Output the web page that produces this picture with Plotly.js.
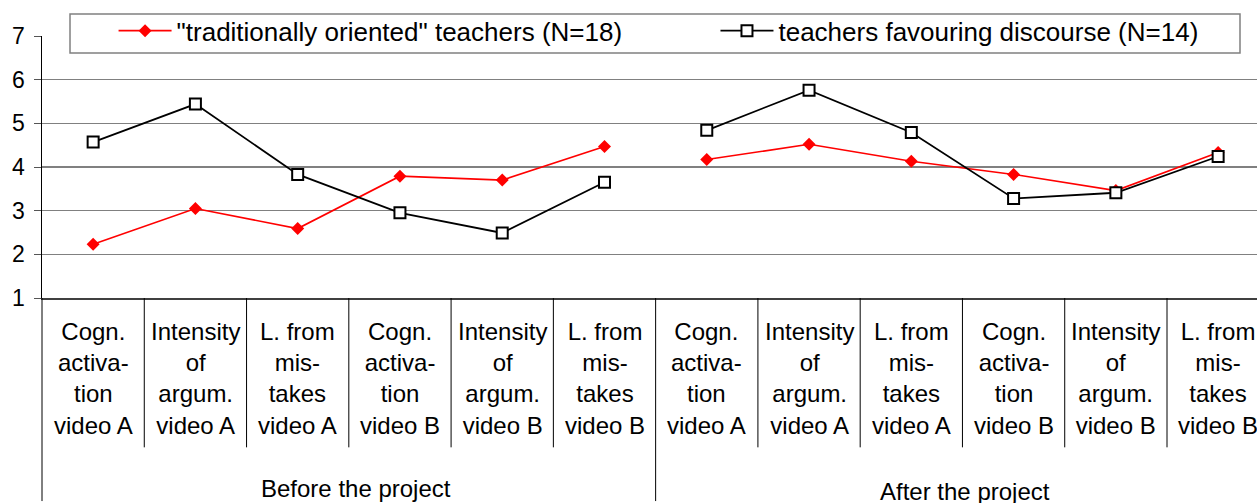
<!DOCTYPE html>
<html>
<head>
<meta charset="utf-8">
<script src="https://cdn.plot.ly/plotly-3.0.1.min.js"></script>
<style>html,body{margin:0;padding:0;background:#fff;}#chart{width:1257px;height:503px;}</style>
</head>
<body>
<div id="chart"></div>
<script>
// ---- data ----
var categories = [
  "Cogn.<br>activa-<br>tion<br>video A",
  "Intensity<br>of<br>argum.<br>video A",
  "L. from<br>mis-<br>takes<br>video A",
  "Cogn.<br>activa-<br>tion<br>video B",
  "Intensity<br>of<br>argum.<br>video B",
  "L. from<br>mis-<br>takes<br>video B"
];
var groups = ["Before the project", "After the project"];
var seriesNames = ['"traditionally oriented" teachers (N=18)', 'teachers favouring discourse (N=14)'];
var traditionalBefore = [2.23, 3.05, 2.59, 3.79, 3.70, 4.47];
var traditionalAfter  = [4.17, 4.52, 4.13, 3.83, 3.46, 4.33];
var discourseBefore   = [4.57, 5.44, 3.83, 2.95, 2.49, 3.65];
var discourseAfter    = [4.84, 5.76, 4.79, 3.28, 3.41, 4.24];
var yTicks = [1, 2, 3, 4, 5, 6, 7];

// ---- build ----
var font = "Liberation Sans, Arial, sans-serif";
var n = categories.length;
var xBefore = categories.map(function(_, i){ return i; });
var xAfter = categories.map(function(_, i){ return i + n; });

var redLine = {color: "#ff0000", width: 1.6};
var redMarker = {symbol: "diamond", size: 10, color: "#ff0000"};
var blkLine = {color: "#000000", width: 1.8};
var blkMarker = {symbol: "square", size: 11, color: "#ffffff", line: {color: "#000000", width: 2}};

var traces = [
  {x: xBefore, y: traditionalBefore, mode: "lines+markers", name: seriesNames[0], legendgroup: "t", legend: "legend", line: redLine, marker: redMarker, cliponaxis: false},
  {x: xAfter, y: traditionalAfter, mode: "lines+markers", name: seriesNames[0], legendgroup: "t", showlegend: false, line: redLine, marker: redMarker, cliponaxis: false},
  {x: xBefore, y: discourseBefore, mode: "lines+markers", name: seriesNames[1], legendgroup: "d", legend: "legend2", line: blkLine, marker: blkMarker, cliponaxis: false},
  {x: xAfter, y: discourseAfter, mode: "lines+markers", name: seriesNames[1], legendgroup: "d", showlegend: false, line: blkLine, marker: blkMarker, cliponaxis: false}
];

var annotations = [];
var shapes = [];
for (var g = 0; g < groups.length; g++) {
  for (var i = 0; i < n; i++) {
    annotations.push({x: g*n + i, xref: "x", y: 0, yref: "paper", yanchor: "top", xanchor: "center",
      yshift: -18, text: categories[i], showarrow: false, align: "center",
      font: {family: font, size: 24, color: "#000"}});
  }
  annotations.push({x: g*n + (n-1)/2, xref: "x", y: 0, yref: "paper", yanchor: "top", xanchor: "center",
    yshift: -175 - g*3, xshift: g === 0 ? 7 : 3, text: groups[g], showarrow: false,
    font: {family: font, size: 24, color: "#000"}});
}
// separators between categories
for (var k = 1; k < 2*n; k++) {
  var isGroup = (k % n === 0);
  shapes.push({type: "line", xref: "x", yref: "paper", x0: k - 0.5, x1: k - 0.5,
    y0: 0, y1: isGroup ? -0.775 : -0.57, line: {color: "#000", width: 1}});
}
// left boundary continuing below axis
shapes.push({type: "line", xref: "paper", yref: "paper", x0: 0, x1: 0, y0: 0, y1: -0.775, line: {color: "#000", width: 1}});
// legend frame
shapes.push({type: "rect", xref: "paper", yref: "paper", x0: 0.02305, x1: 0.98601, y0: 0.9351, y1: 1.084,
  fillcolor: "#fff", line: {color: "#808080", width: 1.5}, layer: "above"});

var legendCommon = {orientation: "h", yanchor: "middle", y: 1.020, xanchor: "left",
  bgcolor: "rgba(0,0,0,0)", borderwidth: 0, itemwidth: 53,
  font: {family: font, size: 26, color: "#000"}};

var layout = {
  width: 1257, height: 503,
  margin: {l: 42, r: 0, t: 36, b: 205, pad: 0},
  paper_bgcolor: "#fff", plot_bgcolor: "#fff",
  font: {family: font, size: 23, color: "#000"},
  showlegend: true,
  legend: Object.assign({}, legendCommon, {x: 0.0589}),
  legend2: Object.assign({}, legendCommon, {x: 0.5543}),
  xaxis: {range: [-0.5, 11.38], showgrid: false, zeroline: false, showticklabels: false,
    ticks: "", showline: true, linecolor: "#404040", linewidth: 2, fixedrange: true},
  yaxis: {range: [1, 7], tickvals: yTicks, ticktext: yTicks.map(String), showgrid: true,
    gridcolor: "#808080", gridwidth: 1.5, zeroline: false, showline: true, linecolor: "#000",
    linewidth: 1.5, ticks: "outside", ticklen: 7, tickcolor: "#555", ticklabelstandoff: 4,
    tickfont: {family: font, size: 23, color: "#000"}, fixedrange: true},
  annotations: annotations,
  shapes: shapes
};

Plotly.newPlot("chart", traces, layout, {displayModeBar: false, staticPlot: true});
</script>
</body>
</html>
